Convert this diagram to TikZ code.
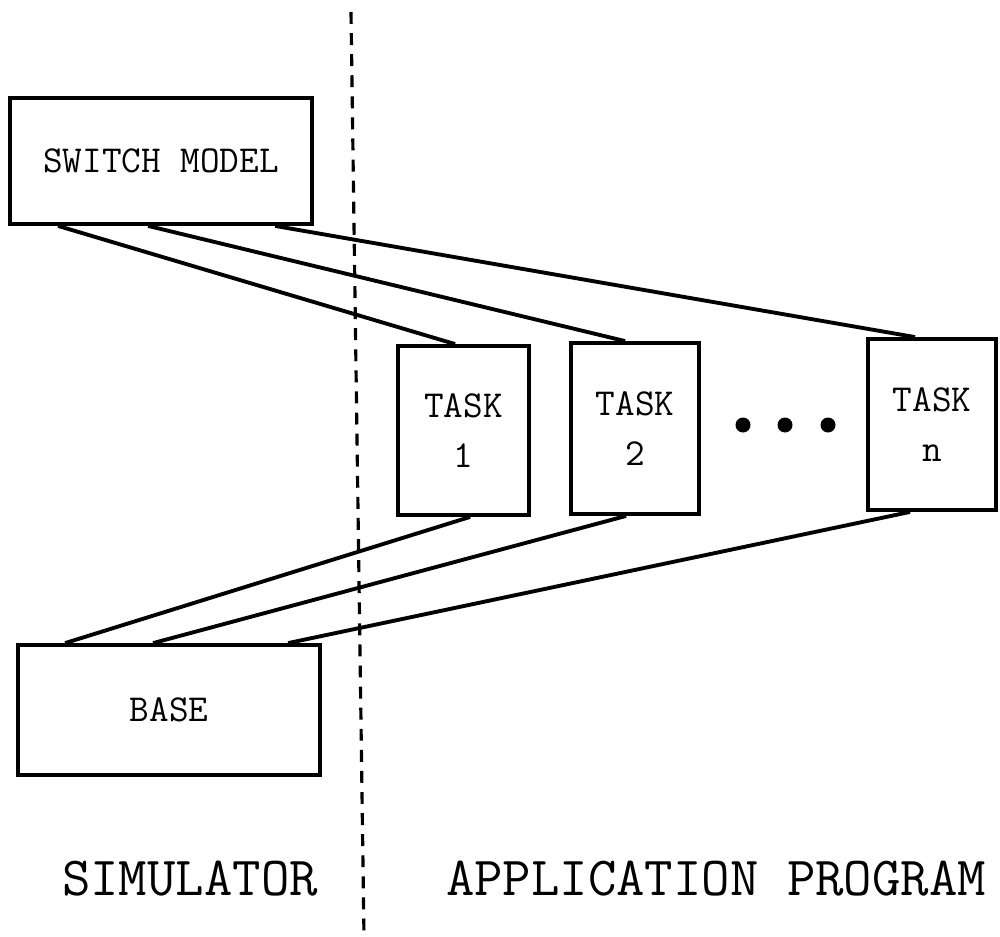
\documentclass[tikz,border=0pt]{standalone}
\usetikzlibrary{calc}
\begin{document}
\begin{tikzpicture}[x=0.02cm,y=-0.02cm,
  box/.style={draw,line width=2.2pt,inner sep=0pt,
    font=\ttfamily\fontsize{21.7}{28.5}\selectfont,align=center},
  wire/.style={line width=2.2pt},
  divider/.style={line width=1.8pt,dash pattern=on 6.8pt off 5.2pt},
  dot/.style={circle,fill,inner sep=0pt,minimum size=0.3cm},
  label/.style={font=\ttfamily\fontsize{31.4}{36}\selectfont,anchor=base}]
\useasboundingbox (0,0) rectangle (1000,936);

% boundary between the two parts
\coordinate (dtop) at (351,12);
\coordinate (dbot) at (364,936);
\draw[divider] (dtop) -- (dbot);

% blocks
\node[box,minimum width=6.04cm,minimum height=2.52cm] (sw) at (161,161) {SWITCH MODEL};
\node[box,minimum width=2.62cm,minimum height=3.38cm] (t1) at (463.5,430.5) {TASK\\1};
\node[box,minimum width=2.56cm,minimum height=3.42cm] (t2) at (635,428.5) {TASK\\2};
\node[box,minimum width=2.56cm,minimum height=3.42cm] (tn) at (932,424.5) {TASK\\n};
\node[box,minimum width=6.04cm,minimum height=2.6cm] (base) at (169,710) {BASE};

% ellipsis between task 2 and task n
\node[dot] (d1) at (743,425) {};
\node[dot] (d2) at (785,425) {};
\node[dot] (d3) at (828,425) {};

% switch model to tasks
\draw[wire] ($(sw.south west)+(50,0)$) -- ($(t1.north west)+(59,0)$);
\draw[wire] ($(sw.south west)+(140,0)$) -- ($(t2.north west)+(56,0)$);
\draw[wire] ($(sw.south west)+(267,0)$) -- ($(tn.north west)+(49,0)$);

% base to tasks
\draw[wire] ($(base.north west)+(49,0)$) -- ($(t1.south west)+(74,0)$);
\draw[wire] ($(base.north west)+(137,0)$) -- ($(t2.south west)+(57,0)$);
\draw[wire] ($(base.north west)+(272,0)$) -- ($(tn.south west)+(44,0)$);

% part labels
\node[label] (sim) at (190,895) {SIMULATOR};
\node[label] (app) at (716,895) {APPLICATION PROGRAM};
\end{tikzpicture}
\end{document}
